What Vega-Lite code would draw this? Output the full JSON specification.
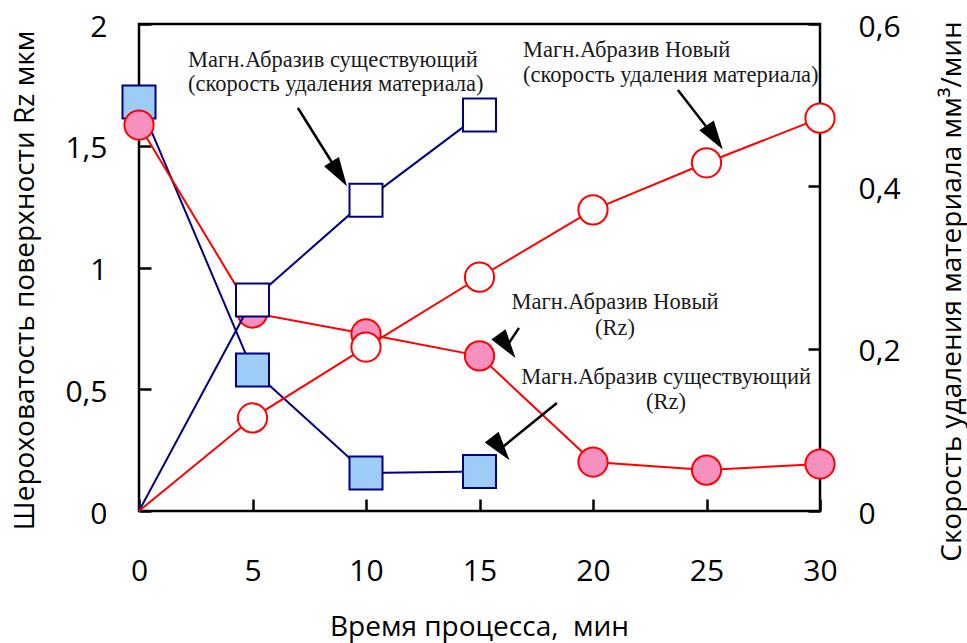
{
  "$schema": "https://vega.github.io/schema/vega-lite/v6.json",
  "width": 681,
  "height": 487,
  "autosize": {"type": "none"},
  "padding": {"left": 139, "top": 24, "right": 147, "bottom": 132},
  "background": "white",
  "config": {
    "view": {"stroke": "black", "strokeWidth": 2.5},
    "axis": {
      "grid": false,
      "domain": false,
      "labelFlush": false,
      "tickColor": "black",
      "tickWidth": 2.5,
      "tickSize": -12,
      "labelFont": "Open Sans",
      "labelFontSize": 30,
      "labelColor": "black",
      "titleFont": "Open Sans",
      "titleFontSize": 28,
      "titleFontWeight": "normal",
      "titleColor": "black"
    }
  },
  "datasets": {
    "obs": [
      {"t": 0, "abrasive": "Существующий", "measure": "Rz", "value": 1.68},
      {"t": 5, "abrasive": "Существующий", "measure": "Rz", "value": 0.579},
      {"t": 10, "abrasive": "Существующий", "measure": "Rz", "value": 0.156},
      {"t": 15, "abrasive": "Существующий", "measure": "Rz", "value": 0.162},
      {"t": 0, "abrasive": "Новый", "measure": "Rz", "value": 1.585},
      {"t": 5, "abrasive": "Новый", "measure": "Rz", "value": 0.813},
      {"t": 10, "abrasive": "Новый", "measure": "Rz", "value": 0.727},
      {"t": 15, "abrasive": "Новый", "measure": "Rz", "value": 0.637},
      {"t": 20, "abrasive": "Новый", "measure": "Rz", "value": 0.201},
      {"t": 25, "abrasive": "Новый", "measure": "Rz", "value": 0.168},
      {"t": 30, "abrasive": "Новый", "measure": "Rz", "value": 0.193},
      {"t": 0, "abrasive": "Существующий", "measure": "rate", "value": 0},
      {"t": 5, "abrasive": "Существующий", "measure": "rate", "value": 0.26},
      {"t": 10, "abrasive": "Существующий", "measure": "rate", "value": 0.383},
      {"t": 15, "abrasive": "Существующий", "measure": "rate", "value": 0.488},
      {"t": 0, "abrasive": "Новый", "measure": "rate", "value": 0},
      {"t": 5, "abrasive": "Новый", "measure": "rate", "value": 0.1146},
      {"t": 10, "abrasive": "Новый", "measure": "rate", "value": 0.202},
      {"t": 15, "abrasive": "Новый", "measure": "rate", "value": 0.288},
      {"t": 20, "abrasive": "Новый", "measure": "rate", "value": 0.371},
      {"t": 25, "abrasive": "Новый", "measure": "rate", "value": 0.429},
      {"t": 30, "abrasive": "Новый", "measure": "rate", "value": 0.484}
    ],
    "notes": [
      {"note": "a1", "t": 2.16, "value": 1.852, "label": "Магн.Абразив существующий"},
      {"note": "a1", "t": 2.16, "value": 1.752, "label": "(скорость удаления материала)"},
      {"note": "a2", "t": 16.92, "value": 1.893, "label": "Магн.Абразив Новый"},
      {"note": "a2", "t": 16.92, "value": 1.79, "label": "(скорость удаления материала)"},
      {"note": "a3", "t": 20.97, "value": 0.858, "label": "Магн.Абразив Новый"},
      {"note": "a3", "t": 20.97, "value": 0.752, "label": "(Rz)"},
      {"note": "a4", "t": 23.22, "value": 0.55, "label": "Магн.Абразив существующий"},
      {"note": "a4", "t": 23.22, "value": 0.448, "label": "(Rz)"}
    ],
    "arrows": [
      {"arrow": "a1", "t": 7.0, "value": 1.655, "t2": 8.82, "value2": 1.384},
      {"arrow": "a2", "t": 23.74, "value": 1.729, "t2": 25.36, "value2": 1.534},
      {"arrow": "a3", "t": 16.74, "value": 0.752, "t2": 16.21, "value2": 0.677},
      {"arrow": "a4", "t": 18.41, "value": 0.4435, "t2": 15.93, "value2": 0.256}
    ]
  },
  "layer": [
    {
      "encoding": {
        "x": {"field": "t", "type": "quantitative", "scale": {"domain": [0, 30], "nice": false},
          "axis": {"values": [0, 5, 10, 15, 20, 25, 30], "labelPadding": 57, "labelAngle": 0,
            "title": "Время процесса,\u00a0 мин", "titleX": 340, "titleY": 124, "titleBaseline": "alphabetic", "titleAlign": "center"}},
        "y": {"field": "value", "type": "quantitative", "scale": {"domain": [0, 2], "nice": false},
          "axis": {"orient": "left", "values": [0, 0.5, 1, 1.5, 2], "labelExpr": "replace(toString(datum.value), '.', ',')",
            "labelPadding": 44, "labelOffset": 3,
            "title": "Шероховатость поверхности Rz мкм", "titleAngle": 270, "titleX": -106, "titleY": 256, "titleBaseline": "alphabetic", "titleAlign": "center"}}
      },
      "layer": [
        {
          "data": {"name": "obs"},
          "transform": [{"filter": "datum.measure === 'Rz'"}],
          "mark": {"type": "line", "strokeWidth": 2},
          "encoding": {
            "color": {"field": "abrasive", "type": "nominal", "scale": {"domain": ["Существующий", "Новый"], "range": ["#000080", "#ff0000"]}, "legend": null}
          }
        },
        {
          "data": {"name": "obs"},
          "transform": [{"filter": "datum.measure === 'Rz'"}],
          "mark": {"type": "point", "filled": true, "opacity": 1, "strokeWidth": 2},
          "encoding": {
            "shape": {"field": "abrasive", "type": "nominal", "scale": {"domain": ["Существующий", "Новый"], "range": ["square", "circle"]}, "legend": null},
            "fill": {"field": "abrasive", "type": "nominal", "scale": {"domain": ["Существующий", "Новый"], "range": ["#9dcdf7", "#f78fbf"]}, "legend": null},
            "stroke": {"field": "abrasive", "type": "nominal", "scale": {"domain": ["Существующий", "Новый"], "range": ["#000080", "#ff0000"]}, "legend": null},
            "size": {"field": "abrasive", "type": "nominal", "scale": {"domain": ["Существующий", "Новый"], "range": [1089, 855]}, "legend": null}
          }
        },
        {
          "data": {"name": "notes"},
          "transform": [{"filter": "datum.note === 'a1' || datum.note === 'a2'"}],
          "mark": {"type": "text", "align": "left", "baseline": "middle", "font": "Liberation Serif", "fontSize": 22.5, "color": "#1a1a1a"},
          "encoding": {"text": {"field": "label"}}
        },
        {
          "data": {"name": "notes"},
          "transform": [{"filter": "datum.note === 'a3' || datum.note === 'a4'"}],
          "mark": {"type": "text", "align": "center", "baseline": "middle", "font": "Liberation Serif", "fontSize": 22.5, "color": "#1a1a1a"},
          "encoding": {"text": {"field": "label"}}
        },
        {
          "data": {"name": "arrows"},
          "mark": {"type": "rule", "color": "black", "strokeWidth": 2.5},
          "encoding": {"x2": {"field": "t2"}, "y2": {"field": "value2"}}
        },
        {
          "data": {"name": "arrows"},
          "mark": {"type": "point", "shape": "M0,-1L0.6,1L-0.6,1Z", "filled": true, "color": "black", "opacity": 1, "size": 850},
          "encoding": {
            "x": {"field": "t2", "type": "quantitative"},
            "y": {"field": "value2", "type": "quantitative"},
            "angle": {"field": "arrow", "type": "nominal", "scale": {"domain": ["a1", "a2", "a3", "a4"], "range": [148, 142.3, 213.7, 231.1]}, "legend": null}
          }
        }
      ]
    },
    {
      "data": {"name": "obs"},
      "transform": [{"filter": "datum.measure === 'rate'"}],
      "encoding": {
        "x": {"field": "t", "type": "quantitative", "scale": {"domain": [0, 30], "nice": false}},
        "y": {"field": "value", "type": "quantitative", "scale": {"domain": [0, 0.6], "nice": false},
          "axis": {"orient": "right", "values": [0, 0.2, 0.4, 0.6], "labelExpr": "replace(toString(datum.value), '.', ',')",
            "labelPadding": 50, "labelOffset": 3, "labelAlign": "left",
            "title": "Скорость удаления материала мм³/мин", "titleAngle": 270, "titleX": 140, "titleY": 267, "titleBaseline": "alphabetic", "titleAlign": "center"}}
      },
      "layer": [
        {
          "mark": {"type": "line", "strokeWidth": 2},
          "encoding": {
            "color": {"field": "abrasive", "type": "nominal", "scale": {"domain": ["Существующий", "Новый"], "range": ["#000080", "#ff0000"]}, "legend": null}
          }
        },
        {
          "transform": [{"filter": "datum.t > 0"}],
          "mark": {"type": "point", "filled": true, "fill": "white", "opacity": 1, "strokeWidth": 2},
          "encoding": {
            "shape": {"field": "abrasive", "type": "nominal", "scale": {"domain": ["Существующий", "Новый"], "range": ["square", "circle"]}, "legend": null},
            "stroke": {"field": "abrasive", "type": "nominal", "scale": {"domain": ["Существующий", "Новый"], "range": ["#000080", "#ff0000"]}, "legend": null},
            "size": {"field": "abrasive", "type": "nominal", "scale": {"domain": ["Существующий", "Новый"], "range": [1089, 855]}, "legend": null}
          }
        }
      ]
    }
  ],
  "resolve": {"scale": {"y": "independent"}}
}
